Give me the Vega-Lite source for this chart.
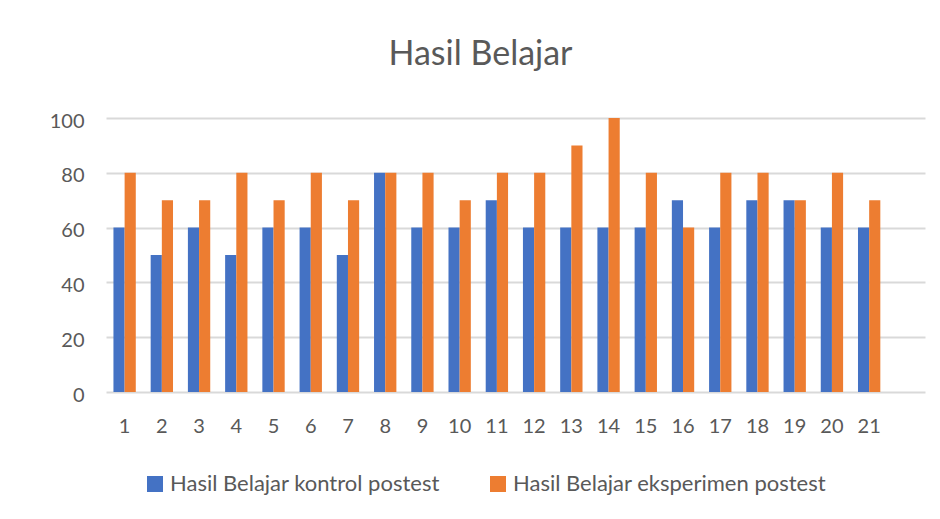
{
  "$schema": "https://vega.github.io/schema/vega-lite/v6.json",
  "autosize": "none",
  "width": 819,
  "height": 274,
  "padding": {"left": 106, "top": 118, "right": 15, "bottom": 127},
  "background": "white",
  "title": {"text": "Hasil Belajar", "fontSize": 34, "font": "Lato", "fontWeight": "normal", "color": "#595959", "anchor": "middle", "offset": 39, "dx": -35},
  "config": {"view": {"stroke": null}, "font": "Lato"},
  "data": {"values": [
    {"no": "1", "seri": "Hasil Belajar kontrol postest", "nilai": 60},
    {"no": "1", "seri": "Hasil Belajar eksperimen postest", "nilai": 80},
    {"no": "2", "seri": "Hasil Belajar kontrol postest", "nilai": 50},
    {"no": "2", "seri": "Hasil Belajar eksperimen postest", "nilai": 70},
    {"no": "3", "seri": "Hasil Belajar kontrol postest", "nilai": 60},
    {"no": "3", "seri": "Hasil Belajar eksperimen postest", "nilai": 70},
    {"no": "4", "seri": "Hasil Belajar kontrol postest", "nilai": 50},
    {"no": "4", "seri": "Hasil Belajar eksperimen postest", "nilai": 80},
    {"no": "5", "seri": "Hasil Belajar kontrol postest", "nilai": 60},
    {"no": "5", "seri": "Hasil Belajar eksperimen postest", "nilai": 70},
    {"no": "6", "seri": "Hasil Belajar kontrol postest", "nilai": 60},
    {"no": "6", "seri": "Hasil Belajar eksperimen postest", "nilai": 80},
    {"no": "7", "seri": "Hasil Belajar kontrol postest", "nilai": 50},
    {"no": "7", "seri": "Hasil Belajar eksperimen postest", "nilai": 70},
    {"no": "8", "seri": "Hasil Belajar kontrol postest", "nilai": 80},
    {"no": "8", "seri": "Hasil Belajar eksperimen postest", "nilai": 80},
    {"no": "9", "seri": "Hasil Belajar kontrol postest", "nilai": 60},
    {"no": "9", "seri": "Hasil Belajar eksperimen postest", "nilai": 80},
    {"no": "10", "seri": "Hasil Belajar kontrol postest", "nilai": 60},
    {"no": "10", "seri": "Hasil Belajar eksperimen postest", "nilai": 70},
    {"no": "11", "seri": "Hasil Belajar kontrol postest", "nilai": 70},
    {"no": "11", "seri": "Hasil Belajar eksperimen postest", "nilai": 80},
    {"no": "12", "seri": "Hasil Belajar kontrol postest", "nilai": 60},
    {"no": "12", "seri": "Hasil Belajar eksperimen postest", "nilai": 80},
    {"no": "13", "seri": "Hasil Belajar kontrol postest", "nilai": 60},
    {"no": "13", "seri": "Hasil Belajar eksperimen postest", "nilai": 90},
    {"no": "14", "seri": "Hasil Belajar kontrol postest", "nilai": 60},
    {"no": "14", "seri": "Hasil Belajar eksperimen postest", "nilai": 100},
    {"no": "15", "seri": "Hasil Belajar kontrol postest", "nilai": 60},
    {"no": "15", "seri": "Hasil Belajar eksperimen postest", "nilai": 80},
    {"no": "16", "seri": "Hasil Belajar kontrol postest", "nilai": 70},
    {"no": "16", "seri": "Hasil Belajar eksperimen postest", "nilai": 60},
    {"no": "17", "seri": "Hasil Belajar kontrol postest", "nilai": 60},
    {"no": "17", "seri": "Hasil Belajar eksperimen postest", "nilai": 80},
    {"no": "18", "seri": "Hasil Belajar kontrol postest", "nilai": 70},
    {"no": "18", "seri": "Hasil Belajar eksperimen postest", "nilai": 80},
    {"no": "19", "seri": "Hasil Belajar kontrol postest", "nilai": 70},
    {"no": "19", "seri": "Hasil Belajar eksperimen postest", "nilai": 70},
    {"no": "20", "seri": "Hasil Belajar kontrol postest", "nilai": 60},
    {"no": "20", "seri": "Hasil Belajar eksperimen postest", "nilai": 80},
    {"no": "21", "seri": "Hasil Belajar kontrol postest", "nilai": 60},
    {"no": "21", "seri": "Hasil Belajar eksperimen postest", "nilai": 70}
  ]},
  "mark": {"type": "bar", "xOffset": 3},
  "encoding": {
    "x": {
      "field": "no", "type": "nominal",
      "scale": {"domain": ["1","2","3","4","5","6","7","8","9","10","11","12","13","14","15","16","17","18","19","20","21","22"], "paddingInner": 0.4, "paddingOuter": 0.2},
      "axis": {"values": ["1","2","3","4","5","6","7","8","9","10","11","12","13","14","15","16","17","18","19","20","21"], "title": null, "labelAngle": 0, "domain": false, "ticks": false, "labelFontSize": 20, "labelColor": "#595959", "labelPadding": 24, "labelFont": "Lato"}
    },
    "xOffset": {"field": "seri", "type": "nominal", "sort": ["Hasil Belajar kontrol postest", "Hasil Belajar eksperimen postest"], "scale": {"paddingInner": 0}},
    "y": {
      "field": "nilai", "type": "quantitative",
      "scale": {"domain": [0, 100]},
      "axis": {"values": [0, 20, 40, 60, 80, 100], "title": null, "domain": false, "ticks": false, "labelFontSize": 20, "labelColor": "#595959", "labelPadding": 22, "labelBaseline": "middle", "labelOffset": 3, "gridColor": "#D9D9D9", "gridWidth": 2, "labelFont": "Lato"}
    },
    "color": {
      "field": "seri", "type": "nominal",
      "sort": ["Hasil Belajar kontrol postest", "Hasil Belajar eksperimen postest"],
      "scale": {"domain": ["Hasil Belajar kontrol postest", "Hasil Belajar eksperimen postest"], "range": ["#4472C4", "#ED7D31"]},
      "legend": {"orient": "none", "legendX": 38, "legendY": 355, "direction": "horizontal", "title": null, "symbolType": "square", "symbolSize": 256, "symbolStrokeWidth": 0, "labelFontSize": 22, "labelColor": "#595959", "labelFont": "Lato", "labelLimit": 0, "columnPadding": 47, "labelOffset": 4}
    }
  }
}
